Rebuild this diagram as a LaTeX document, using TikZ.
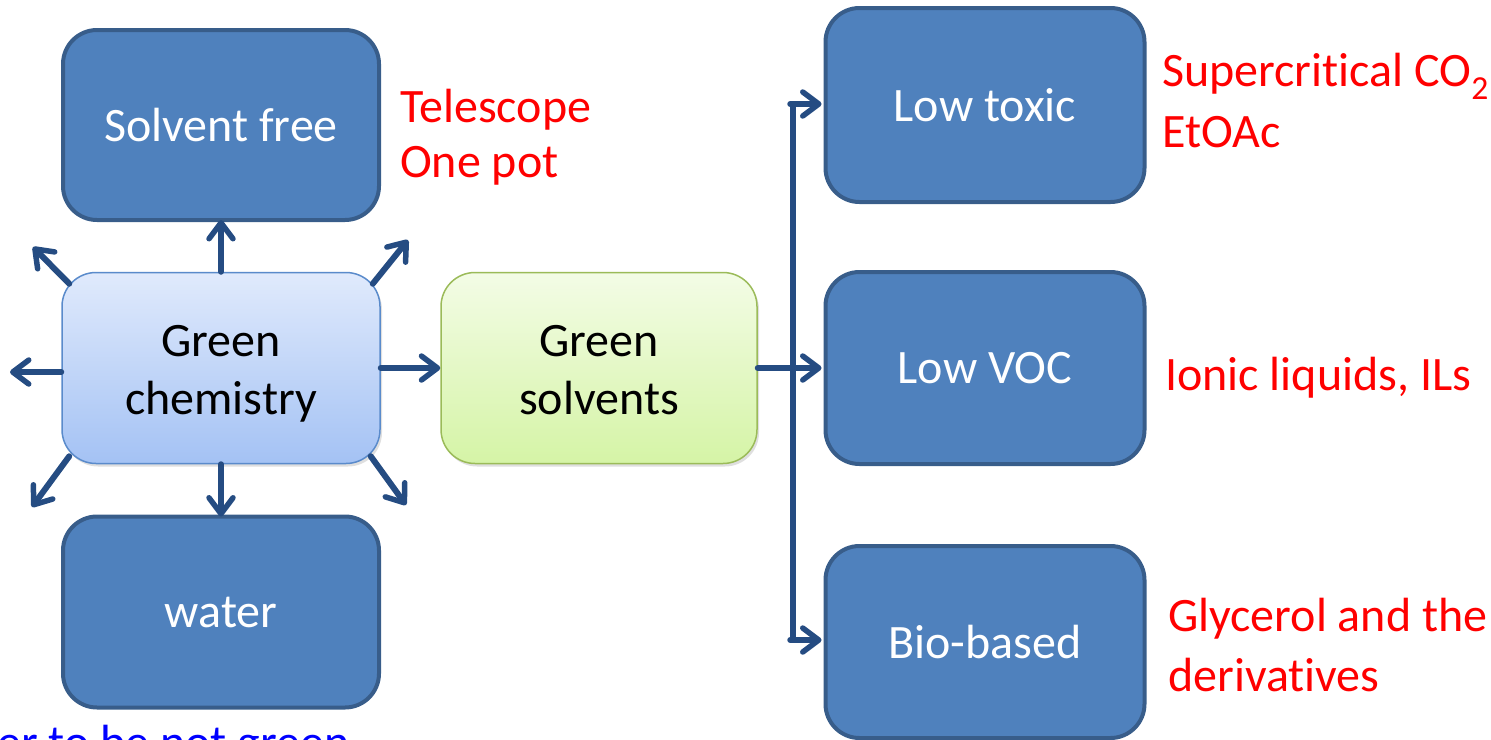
\documentclass[tikz,border=0pt]{standalone}
\usepackage{fontspec}
\setmainfont{Carlito}[Ligatures=NoCommon]
\usetikzlibrary{arrows.meta,shadows}
\definecolor{boxfill}{HTML}{4F81BD}
\definecolor{boxline}{HTML}{385D8A}
\definecolor{arr}{HTML}{254C82}
\definecolor{gctop}{HTML}{E0EAFC}
\definecolor{gcbot}{HTML}{A4C2F4}
\definecolor{gcline}{HTML}{5A8BCB}
\definecolor{gstop}{HTML}{F3FCE6}
\definecolor{gsbot}{HTML}{D5F4A6}
\definecolor{gsline}{HTML}{9BBB59}
\definecolor{redtxt}{HTML}{FF0000}
\begin{document}
\begin{tikzpicture}[x=1pt,y=-1pt,
  txt/.style={font=\fontsize{48}{58}\selectfont, align=center},
  darkbox/.style={draw=boxline, line width=4pt, fill=boxfill, rounded corners=34pt,
     minimum width=316pt, inner sep=0pt, text=white, txt},
  gcbox/.style={draw=gcline, line width=1.5pt, top color=gctop, bottom color=gcbot, rounded corners=34pt,
     minimum width=318pt, minimum height=191pt, inner sep=0pt, txt,
     drop shadow={shadow xshift=2pt, shadow yshift=-3pt, opacity=0.25}},
  gsbox/.style={draw=gsline, line width=1.5pt, top color=gstop, bottom color=gsbot, rounded corners=34pt,
     minimum width=316pt, minimum height=191pt, inner sep=0pt, txt,
     drop shadow={shadow xshift=2pt, shadow yshift=-3pt, opacity=0.25}},
  inlbl/.style={txt, yshift=-6pt, inner sep=0pt},
  note/.style={font=\fontsize{48}{58}\selectfont, text=redtxt, align=left, anchor=west, inner sep=0pt},
  con/.style={draw=arr, line width=6pt, line cap=round,
     -{Straight Barb[length=16pt,width=24pt,line width=5.5pt,round]}},
  plain/.style={draw=arr, line width=5.5pt}
]
\useasboundingbox (0,0) rectangle (1491,739);
% left column
\node[darkbox, minimum height=190pt] (sf) at (221,125) {\raisebox{-2pt}{Solvent free}};
\node[darkbox, minimum height=191pt] (wa) at (221,612) {\raisebox{-2pt}{water}};
\node[gcbox, label={[inlbl]center:Green\\chemistry}] (gc) at (221,368) {};
\node[gsbox, label={[inlbl, yshift=4pt]center:Green\\solvents}] (gs) at (599,368) {};
% right column
\node[darkbox, minimum width=319pt, minimum height=194pt] (lt) at (985,105) {Low toxic};
\node[darkbox, minimum width=319pt, minimum height=192pt] (lv) at (985,368) {Low VOC};
\node[darkbox, minimum width=319pt, minimum height=192pt] (bb) at (985,642) {Bio-based};
% free ends of the radiating arrows
\coordinate (eL) at (10,372);
\coordinate (eUL) at (33,247);
\coordinate (eUR) at (408,240);
\coordinate (eLL) at (32,507);
\coordinate (eLR) at (406,505);
\coordinate (tTop) at (793,104);
\coordinate (tBot) at (793,640);
% arrows from Green chemistry
\draw[con] (gc.north) -- ([yshift=2pt]sf.south);
\draw[con] (gc.south) -- ([yshift=-2pt]wa.north);
\draw[con] (gc.west |- eL) -- (eL);
\draw[con] (gc.east) -- (gs.west);
\draw[con] ([shift={(8,12)}]gc.north west) -- (eUL);
\draw[con] ([shift={(-8,12)}]gc.north east) -- (eUR);
\draw[con] ([shift={(8,-8)}]gc.south west) -- (eLL);
\draw[con] ([shift={(-10,-8)}]gc.south east) -- (eLR);
% branching from Green solvents
\draw[plain] (tTop) -- (tBot);
\draw[con] (gs.east) -- ([xshift=-2pt]lv.west);
\draw[con] ([xshift=-2.75pt]tTop) -- ([xshift=-2pt]lt.west |- tTop);
\draw[con] ([xshift=-2.75pt]tBot) -- ([xshift=-2pt]bb.west |- tBot);
% red notes
\node[note] (n1) at (400,110) {Telescope};
\node[note] (n2) at (400,166) {One pot};
\node[note] (n3) at (1162,76) {Supercritical CO\textsubscript{2}};
\node[note] (n4) at (1162,132) {EtOAc};
\node[note] (n5) at (1165,378) {Ionic liquids, ILs};
\node[note] (n6) at (1168,619) {Glycerol and the};
\node[note] (n7) at (1168,675) {derivatives};
% blue cut-off note
\node[font=\fontsize{48}{58}\selectfont, text=blue, anchor=base west, inner sep=0pt] (n8) at (-3,758) {er to be not green};
\end{tikzpicture}
\end{document}
